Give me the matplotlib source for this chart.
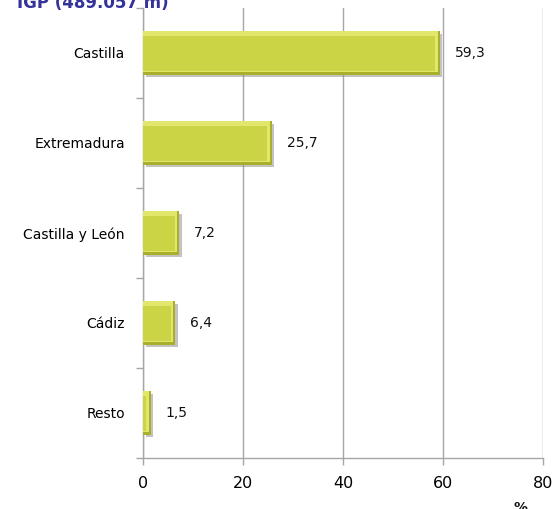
import matplotlib
matplotlib.use("Agg")
import matplotlib.pyplot as plt
import matplotlib.patheffects as pe
import numpy as np

categories = ["Castilla", "Extremadura", "Castilla y León", "Cádiz", "Resto"]
values = [59.3, 25.7, 7.2, 6.4, 1.5]
value_labels = ["59,3", "25,7", "7,2", "6,4", "1,5"]
xticks = [0, 20, 40, 60, 80]
title = "IGP (489.057 m)"

W, H = 556, 509
fig = plt.figure(figsize=(W / 100, H / 100), dpi=100)
ax = fig.add_axes([143 / W, 1 - 458 / H, 400 / W, 450 / H])

y = np.arange(len(categories))
bh = 0.48
grid_c = "#a6a6a6"

ax.set_xlim(0, 80)
ax.set_ylim(len(categories) - 0.5, -0.5)

# bars with bevel-like layering
bars = ax.barh(y, values, height=bh, color="#a9af2b", zorder=3,
               path_effects=[pe.SimplePatchShadow(offset=(2, -2), shadow_rgbFace="#888888", alpha=0.5), pe.Normal()])
ax.barh(y - 0.012, np.array(values) - 0.35, height=bh - 0.024, color="#e2e66a", zorder=3)
ax.barh(y + 0.004, np.array(values) - 0.9, left=0, height=bh - 0.09, color="#cbd444", zorder=3)

for yi, v, lab in zip(y, values, value_labels):
    ax.annotate(lab, (v, yi), xytext=(15, 0), textcoords="offset pixels",
                ha="left", va="center", fontsize=10, color="#111111", zorder=4)

ax.set_xticks(xticks)
ax.set_xticklabels([str(t) for t in xticks], fontsize=11.5)
ax.set_yticks(y)
ax.set_yticklabels(categories, fontsize=10)
ax.set_yticks(np.arange(-0.5, len(categories), 1.0), minor=True)

ax.tick_params(axis="y", which="major", length=0, pad=13)
ax.tick_params(axis="y", which="minor", length=5, color=grid_c, width=1)
ax.tick_params(axis="x", which="major", length=5, color=grid_c, width=1, pad=8)

ax.grid(axis="x", color=grid_c, linewidth=1, zorder=0)
ax.set_axisbelow(True)
for s in ["top", "right"]:
    ax.spines[s].set_visible(False)
for s in ["left", "bottom"]:
    ax.spines[s].set_color(grid_c)
    ax.spines[s].set_linewidth(1)

fig.text(17 / W, 1 - 8 / H, title, fontsize=12, fontweight="bold",
         color="#33339a", ha="left", va="baseline")
fig.text(521 / W, 1 - 501 / H, "%", fontsize=10, fontweight="bold",
         color="#111111", ha="center", va="top")

fig.savefig("out.png", dpi=100)
